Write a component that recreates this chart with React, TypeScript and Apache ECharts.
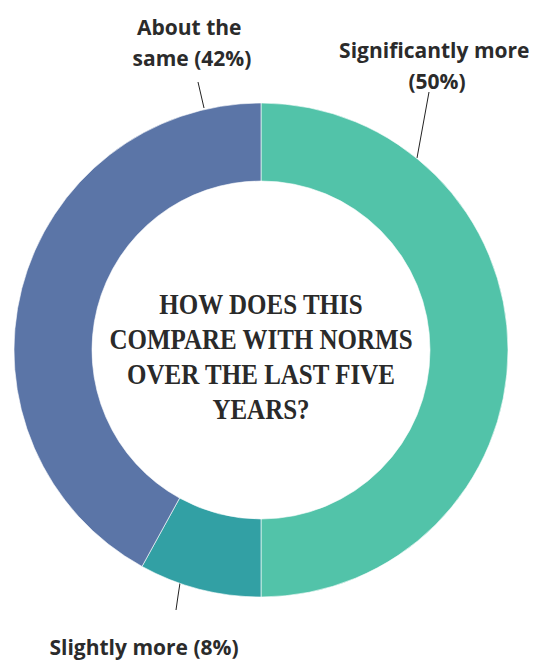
import React, { useEffect, useRef } from "react";
import * as echarts from "echarts";

const categories = ["Significantly more", "Slightly more", "About the same"];
const values = [50, 8, 42];
const colors = ["#52C3A9", "#32A0A4", "#5B75A7"];
const title = "HOW DOES THIS\nCOMPARE WITH NORMS\nOVER THE LAST FIVE\nYEARS?";

// label layout (decoration positions, px)
const labelWidths = [230, 280, 150];
const labelPos = [
  [437, 65],
  [144, 647],
  [192, 42],
];
const leaderLines = [
  [[417, 158], [423, 125], [429, 92]],
  [[180, 583], [178, 596], [176, 610]],
  [[204, 108], [201, 95], [198, 82]],
];

export default function App() {
  const ref = useRef<HTMLDivElement>(null);
  useEffect(() => {
    if (!ref.current) return;
    const chart = echarts.init(ref.current, undefined, { renderer: "svg" });
    chart.setOption({
      animation: false,
      graphic: [
        {
          type: "text",
          x: 261,
          y: 357,
          scaleY: 1.15,
          style: {
            text: title,
            align: "center",
            verticalAlign: "middle",
            fontFamily: "Liberation Serif",
            fontWeight: "bold",
            fontSize: 25,
            lineHeight: 30.5,
            fill: "#2a2a2a",
          },
        },
      ],
      series: [
        {
          type: "pie",
          center: [261, 350],
          radius: [169, 247],
          startAngle: 90,
          clockwise: true,
          itemStyle: { borderColor: "rgba(255,255,255,0.6)", borderWidth: 1 },
          label: {
            show: true,
            fontFamily: "Open Sans",
            fontWeight: "bold",
            fontSize: 21,
            lineHeight: 31,
            color: "#2b2b2b",
            overflow: "break",
            align: "center",
            formatter: (p: any) => `${p.name} (${p.value}%)`,
          },
          labelLine: { show: true, lineStyle: { color: "#222", width: 1 } },
          labelLayout: (p: any) => ({
            x: labelPos[p.dataIndex][0],
            y: labelPos[p.dataIndex][1],
            align: "center",
            verticalAlign: "middle",
            labelLinePoints: leaderLines[p.dataIndex],
          }),
          emphasis: { disabled: true },
          data: categories.map((c, i) => ({
            name: c,
            value: values[i],
            itemStyle: { color: colors[i] },
            label: { width: labelWidths[i] },
          })),
        },
      ],
    });
    return () => chart.dispose();
  }, []);
  return (
    <div
      ref={ref}
      style={{ position: "absolute", left: 0, top: 0, width: 540, height: 662 }}
    />
  );
}
